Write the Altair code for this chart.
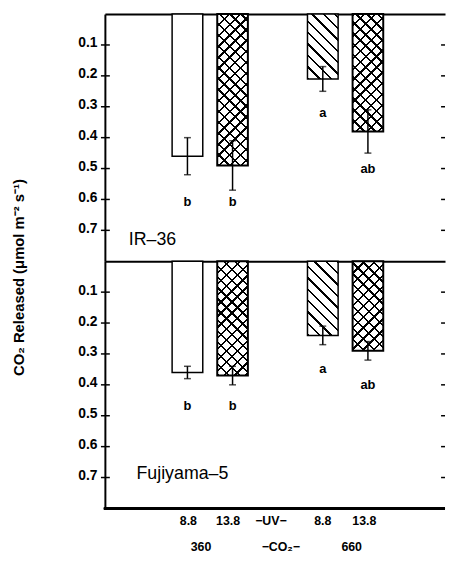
import altair as alt
import pandas as pd

# ---------------- data ----------------
uv_levels = ["8.8", "13.8", "8.8", "13.8"]
co2_levels = ["360", "360", "660", "660"]
patterns = ["open", "cross", "diag", "cross"]
slots = [1, 2, 4, 5]

ir36_mean = [0.46, 0.49, 0.21, 0.38]
ir36_err = [0.06, 0.08, 0.04, 0.07]
ir36_letters = ["b", "b", "a", "ab"]
ir36_letter_y = [0.61, 0.61, 0.32, 0.50]

fuji_mean = [0.36, 0.37, 0.24, 0.29]
fuji_err = [0.02, 0.03, 0.03, 0.03]
fuji_letters = ["b", "b", "a", "ab"]
fuji_letter_y = [0.47, 0.47, 0.35, 0.40]

panel_names = ["IR–36", "Fujiyama–5"]
panel_name_x = [-0.30, -0.13]
panel_name_y = [0.73, 0.69]

y_ticks = [0.1, 0.2, 0.3, 0.4, 0.5, 0.6, 0.7]

row1_labels = ["8.8", "13.8", "−UV−", "8.8", "13.8"]
row1_x = [1.02, 1.90, 2.85, 4.0, 4.92]
row2_labels = ["360", "−CO₂−", "660"]
row2_x = [1.30, 3.07, 4.64]

# ---------------- layout ----------------
W = 344
H = 250
BAR_W = 31
PX_PER_UNIT = H / 0.8
FONT = "Liberation Sans"

xscale = alt.Scale(domain=[-0.72, -0.72 + W / 47.0], nice=False, zero=False)
yscale = alt.Scale(domain=[0, 0.8], reverse=True, nice=False)


def hatch(w, h, direction, period, thick, line, bg):
    L = w + h
    s = L / (w * w + h * h)
    if direction == "back":
        x1, y1, x2, y2 = 0, 1, s * w, 1 - s * h
    else:
        x1, y1, x2, y2 = 0, 0, s * w, s * h
    stops = []
    k = 0
    while k * period < L:
        a = k * period / L
        b = min((k * period + thick) / L, 1)
        c = min((k + 1) * period / L, 1)
        stops += [(a, line), (b, line), (b, bg), (c, bg)]
        k += 1
    return alt.LinearGradient(
        gradient="linear",
        stops=[alt.GradientStop(color=col, offset=off) for off, col in stops],
        x1=x1, y1=y1, x2=x2, y2=y2,
    )


def panel(means, errs, letters, letter_y, name, name_x, name_y, top):
    xaxis = alt.Axis(orient="top", labels=False, ticks=False, domain=True,
                     domainWidth=2, domainColor="black", grid=False, title=None)
    if top:
        yaxis = alt.Axis(values=y_ticks, format=".1f", ticks=False, tickSize=0,
                         domainWidth=2, domainColor="black", grid=False,
                         labelPadding=8, labelOffset=-2,
                         title="CO₂ Released (μmol m⁻² s⁻¹)",
                         titleX=-87, titleY=266, titleAlign="center",
                         titleBaseline="middle", titleAngle=270)
    else:
        yaxis = alt.Axis(values=y_ticks, format=".1f", ticks=False, tickSize=0,
                         domainWidth=2, domainColor="black", grid=False,
                         labelPadding=8, labelOffset=-2, title=None)

    X = lambda f: alt.X(f, type="quantitative", scale=xscale, axis=xaxis)
    Y = lambda f: alt.Y(f, type="quantitative", scale=yscale, axis=yaxis)

    df = pd.DataFrame({
        "slot": slots, "mean": means, "err": errs, "base": [0.0] * 4,
        "letter": letters, "ly": letter_y, "pattern": patterns,
    })
    df["lo"] = df["mean"] - df["err"]
    df["hi"] = df["mean"] + df["err"]

    layers = []
    for i, row in df.iterrows():
        h = row["mean"] * PX_PER_UNIT
        one = alt.Chart(df.iloc[[i]])
        enc = dict(x=X("slot"), y=Y("base"), y2="mean:Q")
        if row["pattern"] == "open":
            layers.append(one.mark_bar(width=BAR_W, fill="white", stroke="black",
                                       strokeWidth=1.5).encode(**enc))
        elif row["pattern"] == "diag":
            g = hatch(BAR_W, h, "back", 11.5, 2.4, "black", "white")
            layers.append(one.mark_bar(width=BAR_W, fill=g, stroke="black",
                                       strokeWidth=1.5).encode(**enc))
        else:
            g1 = hatch(BAR_W, h, "back", 11, 2.4, "black", "white")
            g2 = hatch(BAR_W, h, "fwd", 11, 2.4, "black", "rgba(0,0,0,0)")
            layers.append(one.mark_bar(width=BAR_W, fill=g1, strokeWidth=0).encode(**enc))
            layers.append(one.mark_bar(width=BAR_W, fill=g2, stroke="black",
                                       strokeWidth=2).encode(**enc))

    base = alt.Chart(df)
    layers.append(base.mark_rule(color="black", strokeWidth=1.5).encode(
        x=X("slot"), y=Y("lo"), y2="hi:Q"))
    for f in ["lo", "hi"]:
        layers.append(base.mark_tick(orient="horizontal", size=7, thickness=1.5,
                                     color="black").encode(x=X("slot"), y=Y(f)))
    layers.append(base.mark_text(font=FONT, fontSize=13, fontWeight="bold",
                                 color="black", baseline="middle").encode(
        x=X("slot"), y=Y("ly"), text="letter:N"))

    name_df = pd.DataFrame({"name": [name], "nx": [name_x], "ny": [name_y]})
    layers.append(alt.Chart(name_df).mark_text(font=FONT, fontSize=18, align="left",
                                               baseline="middle", color="black").encode(
        x=X("nx"), y=Y("ny"), text="name:N"))

    tick_df = pd.DataFrame({"tick": y_ticks})
    layers.append(alt.Chart(tick_df).mark_rule(color="black", strokeWidth=1.5).encode(
        y=Y("tick"), x=alt.value(-4), x2=alt.value(5)))
    layers.append(alt.Chart(tick_df).mark_rule(color="black", strokeWidth=1.5).encode(
        y=Y("tick"), x=alt.value(W - 4), x2=alt.value(W)))

    if not top:
        layers.append(alt.Chart(tick_df).mark_rule(color="black", strokeWidth=2).encode(
            y=alt.value(H), x=alt.value(-1), x2=alt.value(W)))
        r1 = pd.DataFrame({"lab": row1_labels, "lx": row1_x})
        layers.append(alt.Chart(r1).mark_text(font=FONT, fontSize=12.5, fontWeight="bold",
                                              baseline="middle", color="black").encode(
            x=X("lx"), y=alt.value(H + 13), text="lab:N"))
        r2 = pd.DataFrame({"lab": row2_labels, "lx": row2_x})
        layers.append(alt.Chart(r2).mark_text(font=FONT, fontSize=12.5, fontWeight="bold",
                                              baseline="middle", color="black").encode(
            x=X("lx"), y=alt.value(H + 39), text="lab:N"))

    return alt.layer(*layers).properties(width=W, height=H)


top = panel(ir36_mean, ir36_err, ir36_letters, ir36_letter_y,
            panel_names[0], panel_name_x[0], panel_name_y[0], True)
bottom = panel(fuji_mean, fuji_err, fuji_letters, fuji_letter_y,
               panel_names[1], panel_name_x[1], panel_name_y[1], False)

chart = alt.vconcat(top, bottom, spacing=0, bounds="flush").properties(
    padding={"left": 4, "top": 2, "right": 0, "bottom": 0}
).configure_view(stroke=None).configure_axis(
    labelFont=FONT, labelFontSize=14, labelFontWeight="bold", labelColor="black",
    titleFont=FONT, titleFontSize=15, titleFontWeight="bold", titleColor="black",
)

chart.save("out.html", embed_options={"renderer": "svg", "actions": False})
